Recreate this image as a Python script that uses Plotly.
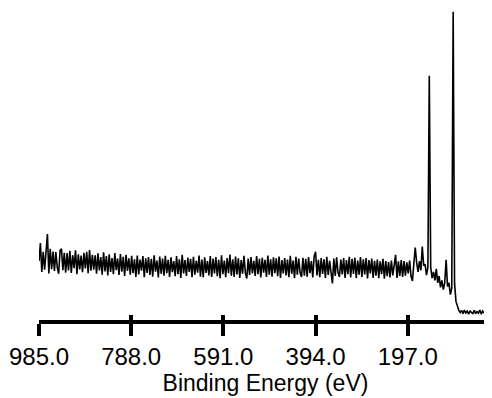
import plotly.graph_objects as go

# Binding energy grid (eV), 3 eV steps from 985 down to 19
E_START, E_STEP, N_PTS = 985, 3, 323
energy = [E_START - E_STEP * k for k in range(N_PTS)]

# Intensity (arbitrary units), one value per grid point
counts = [
    19.0, 24.8, 15.5, 22.0, 16.2, 21.8, 27.7, 15.0, 23.0, 16.4,
    22.1, 15.8, 21.9, 17.0, 14.9, 22.4, 23.0, 16.1, 21.7, 15.3,
    21.6, 16.0, 22.3, 15.2, 20.9, 16.7, 22.5, 14.8, 21.2, 16.3,
    20.8, 15.4, 21.7, 16.6, 22.0, 15.1, 22.6, 15.9, 21.0, 16.2,
    20.9, 14.9, 21.5, 16.0, 20.3, 14.6, 21.8, 15.7, 20.6, 14.4,
    21.2, 15.5, 20.0, 14.8, 21.6, 16.1, 19.8, 14.5, 21.3, 15.6,
    20.4, 14.2, 21.0, 15.8, 19.9, 14.6, 20.7, 15.1, 19.6, 13.9,
    20.8, 14.7, 19.5, 15.9, 20.6, 13.8, 19.9, 15.2, 20.3, 14.5,
    19.7, 14.0, 20.9, 15.6, 19.2, 13.7, 20.5, 14.9, 19.8, 14.3,
    20.7, 15.1, 19.4, 13.9, 20.2, 15.4, 19.0, 14.1, 20.6, 14.8,
    19.6, 13.6, 21.0, 15.0, 19.3, 14.2, 20.1, 15.5, 19.7, 13.8,
    20.4, 14.6, 19.1, 15.3, 20.8, 14.0, 19.5, 13.7, 20.2, 15.2,
    19.0, 14.4, 20.6, 13.9, 19.8, 15.0, 20.3, 14.1, 19.4, 13.5,
    20.9, 14.8, 19.2, 13.8, 20.0, 15.1, 21.1, 14.3, 19.6, 13.9,
    20.5, 14.7, 19.9, 13.6, 19.3, 14.9, 20.7, 15.2, 13.4, 19.8,
    14.5, 20.3, 15.0, 19.1, 14.2, 20.6, 14.8, 19.7, 13.7, 20.1,
    15.3, 19.4, 13.9, 20.8, 14.6, 19.6, 14.0, 20.2, 15.1, 19.9,
    14.1, 20.5, 13.6, 19.3, 15.0, 20.0, 14.4, 19.5, 13.8, 20.7,
    14.9, 19.2, 13.5, 20.4, 14.6, 19.8, 15.2, 13.9, 20.1, 14.3,
    19.7, 14.0, 20.3, 15.1, 19.0, 13.7, 20.6, 22.0, 14.4, 19.4,
    13.8, 20.0, 14.9, 19.6, 13.6, 20.4, 14.5, 19.1, 15.0, 11.8,
    19.8, 14.2, 20.2, 15.3, 13.9, 19.5, 14.7, 20.0, 13.6, 19.3,
    14.8, 20.4, 13.7, 19.7, 14.9, 20.1, 13.5, 19.2, 14.6, 20.3,
    13.9, 19.6, 14.7, 20.0, 13.4, 19.3, 15.0, 19.8, 13.6, 19.1,
    14.3, 19.5, 13.5, 18.9, 14.8, 19.7, 13.3, 19.0, 14.1, 18.7,
    13.7, 19.2, 14.4, 18.8, 21.0, 13.6, 18.9, 14.2, 19.3, 13.9,
    19.0, 14.3, 18.6, 15.0, 19.2, 14.1, 12.6, 18.2, 23.4, 18.5,
    15.5, 19.0, 16.0, 23.7, 17.5, 18.0, 14.5, 17.0, 78.8, 17.0,
    13.5, 15.5, 12.8, 16.5, 12.0, 14.2, 10.5, 12.8, 9.8, 12.0,
    19.4, 10.8, 12.0, 8.2, 10.2, 99.4, 11.8, 6.0, 4.3, 3.2,
    2.4, 3.1, 2.0, 3.2, 2.3, 2.9, 1.9, 3.0, 2.4, 2.1,
    3.1, 2.0, 2.7, 2.2, 3.2, 1.9, 2.9, 2.3, 2.1, 3.0,
    2.2, 3.1, 2.5,
]

tick_values = [985, 788, 591, 394, 197]
tick_labels = ["985.0", "788.0", "591.0", "394.0", "197.0"]
x_range = [985, 17]
y_range = [0, 100]

fig = go.Figure()
fig.add_trace(go.Scatter(
    x=energy, y=counts, mode="lines",
    line=dict(color="black", width=1.6),
    showlegend=False, hoverinfo="skip",
))
# invisible trace on overlay axis so it renders
fig.add_trace(go.Scatter(
    x=[x_range[0]], y=[y_range[0]], xaxis="x2", mode="markers",
    marker=dict(opacity=0), showlegend=False, hoverinfo="skip",
))

font = "Liberation Sans, Arial, sans-serif"
# page body has an 8px default margin: figure is sized to fill the rest
fig.update_layout(
    width=484, height=390,
    margin=dict(l=31, r=0, t=2, b=78),
    plot_bgcolor="white", paper_bgcolor="white",
    xaxis=dict(
        range=x_range, showgrid=False, zeroline=False, automargin=False,
        showline=True, linecolor="black", linewidth=4,
        ticks="outside", ticklen=12, tickwidth=4, tickcolor="black",
        tickvals=tick_values, ticktext=tick_labels,
        tickfont=dict(family=font, size=24, color="black"),
        title=dict(text="Binding Energy (eV)", standoff=5,
                   font=dict(family=font, size=23, color="black")),
    ),
    xaxis2=dict(
        range=x_range, overlaying="x", anchor="y", side="bottom",
        showgrid=False, zeroline=False, showline=False, automargin=False,
        ticks="inside", ticklen=5, tickwidth=4, tickcolor="black",
        tickvals=tick_values, showticklabels=False,
    ),
    yaxis=dict(range=y_range, visible=False, automargin=False),
)

fig.write_html("out.html")
